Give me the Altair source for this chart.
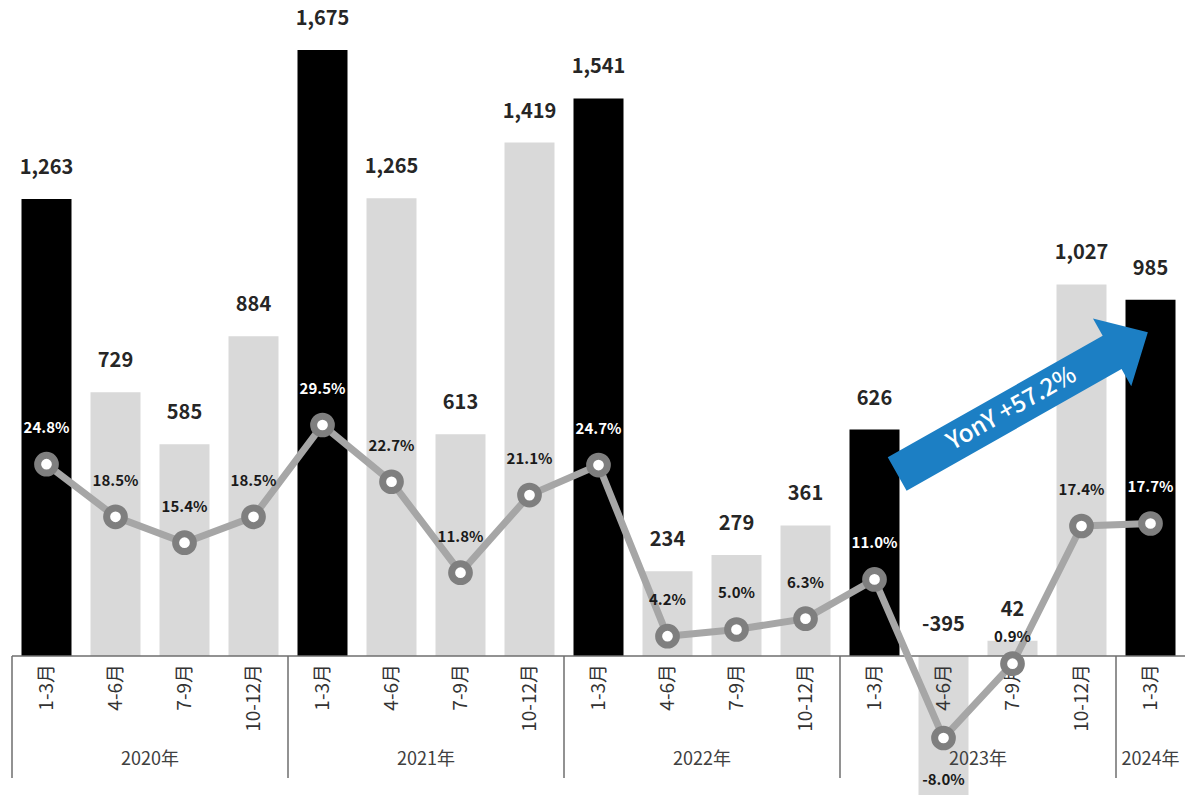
import altair as alt
import pandas as pd

# ---- data ----
quarters = ["1-3月", "4-6月", "7-9月", "10-12月"] * 4 + ["1-3月"]
years = ["2020年"] * 4 + ["2021年"] * 4 + ["2022年"] * 4 + ["2023年"] * 4 + ["2024年"]
values = [1263, 729, 585, 884, 1675, 1265, 613, 1419, 1541, 234, 279, 361, 626, -395, 42, 1027, 985]
pcts = [24.8, 18.5, 15.4, 18.5, 29.5, 22.7, 11.8, 21.1, 24.7, 4.2, 5.0, 6.3, 11.0, -8.0, 0.9, 17.4, 17.7]
arrow_text = "YonY +57.2%"

FONT = "Noto Sans CJK JP"

df = pd.DataFrame({
    "i": list(range(len(values))),
    "q": quarters,
    "year": years,
    "v": values,
    "p": pcts,
})
df["kind"] = ["Q1" if q == "1-3月" else "other" for q in quarters]
df["vlab"] = [f"{v:,}" for v in values]
df["plab"] = [f"{p:.1f}%" for p in pcts]

# year groups
yrs = []
for y in dict.fromkeys(years):
    idx = [i for i, yy in enumerate(years) if yy == y]
    yrs.append({"year": y, "c": sum(idx) / len(idx), "start": min(idx) - 0.5})
ydf = pd.DataFrame(yrs)

N = len(values)
xs = alt.Scale(domain=[-0.5, N - 0.5], nice=False, zero=False, padding=0)
yb = alt.Scale(domain=[-384.2, 1813.2], nice=False, zero=False, padding=0)
yl = alt.Scale(domain=[-14.83, 80.42], nice=False, zero=False, padding=0)

base = alt.Chart(df)

bars = base.mark_bar(size=50).encode(
    x=alt.X("i:Q", scale=xs, axis=None),
    y=alt.Y("v:Q", scale=yb, axis=None, stack=None),
    y2=alt.datum(0),
    color=alt.Color("kind:N", scale=alt.Scale(domain=["Q1", "other"], range=["#000000", "#d9d9d9"]), legend=None),
)

baseline = alt.Chart(pd.DataFrame({"a": [-0.5], "b": [N - 0.5], "y": [0]})).mark_rule(
    color="#6e6e6e", strokeWidth=1.5
).encode(
    x=alt.X("a:Q", scale=xs, axis=None), x2="b:Q", y=alt.Y("y:Q", scale=yb, axis=None)
)

seps = alt.Chart(ydf).mark_rule(color="#6e6e6e", strokeWidth=1.5).encode(
    x=alt.X("start:Q", scale=xs, axis=None),
    y=alt.Y("y0:Q", scale=yb, axis=None),
    y2="y1:Q",
).transform_calculate(y0="0", y1="-337")

qlabels = base.mark_text(
    angle=270, align="right", baseline="middle", font=FONT, fontSize=19, color="#333333"
).encode(
    x=alt.X("i:Q", scale=xs, axis=None),
    y=alt.Y("ly:Q", scale=yb, axis=None),
    text="q:N",
).transform_calculate(ly="-22")

ylabels = alt.Chart(ydf).mark_text(
    align="center", baseline="middle", font=FONT, fontSize=18, color="#404040"
).encode(
    x=alt.X("c:Q", scale=xs, axis=None),
    y=alt.Y("ly:Q", scale=yb, axis=None),
    text="year:N",
).transform_calculate(ly="-287")

line = base.mark_line(color="#a6a6a6", strokeWidth=7).encode(
    x=alt.X("i:Q", scale=xs, axis=None),
    y=alt.Y("p:Q", scale=yl, axis=None),
)

points = base.mark_point(
    shape="circle", size=314, filled=False, fill="#ffffff", fillOpacity=1,
    stroke="#7f7f7f", strokeWidth=7, opacity=1
).encode(
    x=alt.X("i:Q", scale=xs, axis=None),
    y=alt.Y("p:Q", scale=yl, axis=None),
)

vlabels = base.mark_text(
    dy=-31, baseline="middle", align="center", font=FONT, fontSize=20, fontWeight="bold", color="#262626"
).encode(
    x=alt.X("i:Q", scale=xs, axis=None),
    y=alt.Y("ly:Q", scale=yb, axis=None),
    text="vlab:N",
).transform_calculate(ly="max(datum.v, 0)")

pcol = alt.Color("kind:N", scale=alt.Scale(domain=["Q1", "other"], range=["#ffffff", "#1a1a1a"]), legend=None)


def plabel_layer(filt, dy):
    return base.transform_filter(filt).mark_text(
        dy=dy, baseline="middle", align="center", font=FONT, fontSize=15, fontWeight="bold"
    ).encode(
        x=alt.X("i:Q", scale=xs, axis=None),
        y=alt.Y("p:Q", scale=yl, axis=None),
        text="plab:N",
        color=pcol,
    )


plabels_up = plabel_layer("datum.p >= 2", -36)
plabels_small = plabel_layer("datum.p >= 0 && datum.p < 2", -27)
plabels_dn = plabel_layer("datum.p < 0", 42)

arrow_shape = "M -1 -0.133 L 0.715 -0.133 L 0.715 -0.27 L 1 0 L 0.715 0.27 L 0.715 0.133 L -1 0.133 Z"
arrow = alt.Chart(pd.DataFrame({"x": [14.145], "y": [699]})).mark_point(
    shape=arrow_shape, size=82944, filled=True, color="#1c7fc4", opacity=1, angle=330.5, strokeWidth=0
).encode(
    x=alt.X("x:Q", scale=xs, axis=None),
    y=alt.Y("y:Q", scale=yb, axis=None),
)

arrow_lab = alt.Chart(pd.DataFrame({"x": [13.99], "y": [683], "t": [arrow_text]})).mark_text(
    angle=330.5, align="center", baseline="middle", font=FONT, fontSize=24, fontWeight=500, color="#ffffff"
).encode(
    x=alt.X("x:Q", scale=xs, axis=None),
    y=alt.Y("y:Q", scale=yb, axis=None),
    text="t:N",
)

chart = alt.layer(
    bars, baseline, seps, qlabels, ylabels, line, points, vlabels,
    plabels_up, plabels_small, plabels_dn, arrow, arrow_lab
).resolve_scale(y="independent", color="independent").properties(
    width=1173, height=795,
    autosize=alt.AutoSizeParams(type="none"),
    padding={"left": 12, "top": 0, "right": 0, "bottom": 0},
    background="#ffffff",
).configure_view(stroke=None)

chart.save("out.html", embed_options={"renderer": "svg", "actions": False})
